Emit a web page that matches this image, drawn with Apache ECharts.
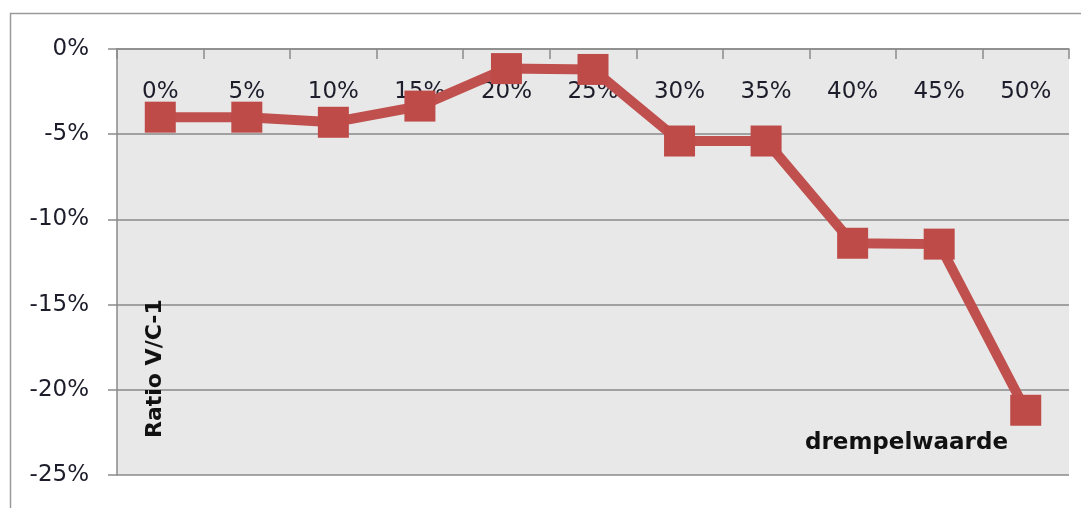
<!DOCTYPE html>
<html>
<head>
<meta charset="utf-8">
<script src="https://cdn.jsdelivr.net/npm/echarts@6/dist/echarts.min.js"></script>
<style>
html,body{margin:0;padding:0;background:#fff;}
#chart{width:1081px;height:508px;}
</style>
</head>
<body>
<div id="chart"></div>
<script>
var categories = ['0%','5%','10%','15%','20%','25%','30%','35%','40%','45%','50%'];
var ratioValues = [-4.0, -4.0, -4.3, -3.35, -1.15, -1.2, -5.4, -5.4, -11.4, -11.45, -21.2];
var yTicks = {min: -25, max: 0, interval: 5};
var yTitle = 'Ratio V/C-1';
var xTitle = 'drempelwaarde';

var chart = echarts.init(document.getElementById('chart'));
var font = 'DejaVu Sans';
chart.setOption({
  animation: false,
  backgroundColor: '#ffffff',
  graphic: [
    {type:'rect', z:-10, shape:{x:10.5,y:13.5,width:1200,height:700}, style:{fill:'#ffffff',stroke:'#9a9a9a',lineWidth:1.5}},
    {type:'text', z:100, left:805, top:432, style:{text:xTitle, font:'bold 23px "DejaVu Sans"', fill:'#111'}},
    {type:'text', z:100, x:144, y:438, rotation:Math.PI/2, style:{text:yTitle, font:'bold 22px "DejaVu Sans"', fill:'#111', textAlign:'left', textVerticalAlign:'top'}}
  ],
  grid: {left:117, top:49, right:12, bottom:33, show:true, backgroundColor:'#e8e8e8', borderWidth:0},
  xAxis: {
    type:'category', data:categories, position:'top', boundaryGap:true,
    axisLine:{show:true, lineStyle:{color:'#8a8a8a', width:1.5}},
    axisTick:{show:true, inside:true, length:10, alignWithLabel:false, lineStyle:{color:'#8a8a8a', width:1.5}},
    axisLabel:{inside:true, margin:32, color:'#1c1c2a', fontFamily:font, fontSize:23},
    splitLine:{show:false}
  },
  yAxis: {
    type:'value', min:yTicks.min, max:yTicks.max, interval:yTicks.interval,
    axisLine:{show:true, lineStyle:{color:'#8a8a8a', width:1.5}},
    axisTick:{show:true, inside:false, length:9, lineStyle:{color:'#8a8a8a', width:1.5}},
    axisLabel:{margin:28, color:'#1c1c2a', fontFamily:font, fontSize:23, formatter:'{value}%'},
    splitLine:{show:true, lineStyle:{color:'#8a8a8a', width:1.5}}
  },
  series: [{
    type:'line', data:ratioValues,
    symbol:'rect', symbolSize:31, showAllSymbol:true,
    lineStyle:{color:'#c0504d', width:10, join:'miter'},
    itemStyle:{color:'#be4b48', borderWidth:0, opacity:1},
    emphasis:{disabled:true},
    z:5
  }]
});
</script>
</body>
</html>
